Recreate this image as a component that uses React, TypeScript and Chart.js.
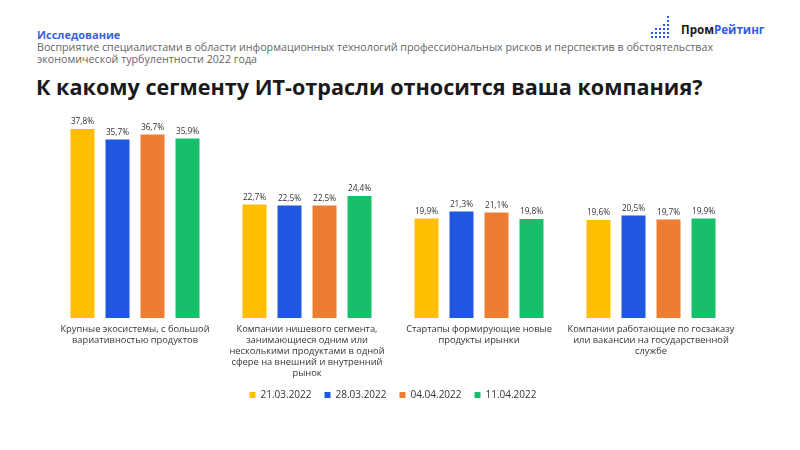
import React, { useEffect, useRef } from "react";
import { Chart, registerables } from "chart.js";

Chart.register(...registerables);

const categories: string[][] = [
  ["Крупные экосистемы, с большой", "вариативностью продуктов"],
  ["Компании нишевого сегмента,", "занимающиеся одним или", "несколькими продуктами в одной", "сфере на внешний и внутренний", "рынок"],
  ["Стартапы формирующие новые", "продукты ирынки"],
  ["Компании работающие по госзаказу", "или вакансии на государственной", "службе"],
];
const seriesNames = ["21.03.2022", "28.03.2022", "04.04.2022", "11.04.2022"];
const s1 = [37.8, 22.7, 19.9, 19.6];
const s2 = [35.7, 22.5, 21.3, 20.5];
const s3 = [36.7, 22.5, 21.1, 19.7];
const s4 = [35.9, 24.4, 19.8, 19.9];
const colors = ["#FFBF00", "#1F57E0", "#ED7D31", "#17BF6A"];

const FONT = "'Open Sans', sans-serif";

const labelPlugin = {
  id: "barValues",
  afterDatasetsDraw(chart: any) {
    const ctx = chart.ctx;
    ctx.save();
    ctx.font = `8.3px ${FONT}`;
    ctx.fillStyle = "#333";
    ctx.textAlign = "center";
    ctx.textBaseline = "bottom";
    chart.data.datasets.forEach((ds: any, i: number) => {
      const meta = chart.getDatasetMeta(i);
      meta.data.forEach((el: any, j: number) => {
        const v = ds.data[j] as number;
        ctx.fillText(v.toFixed(1).replace(".", ",") + "%", el.x, el.y - 3);
      });
    });
    ctx.restore();
  },
};

function Logo() {
  const cols = [2, 3, 3, 4, 6];
  return (
    <div style={{ position: "absolute", left: 651, top: 16, display: "flex", alignItems: "center" }}>
      <div style={{ display: "flex", alignItems: "flex-end", height: 22, gap: 2 }}>
        {cols.map((n, ci) => (
          <div key={ci} style={{ display: "flex", flexDirection: "column", gap: 2 }}>
            {Array.from({ length: n }).map((_, k) => (
              <div key={k} style={{ width: 2, height: 2, background: "#2f5be0" }} />
            ))}
          </div>
        ))}
      </div>
      <div style={{ marginLeft: 12, fontFamily: FONT, fontWeight: 700, fontSize: 11.6, color: "#1a1a1a", marginTop: 5 }}>
        Пром<span style={{ color: "#2f5be0" }}>Рейтинг</span>
      </div>
    </div>
  );
}

export default function App() {
  const ref = useRef<HTMLCanvasElement>(null);
  useEffect(() => {
    if (!ref.current) return;
    const data = [s1, s2, s3, s4];
    const chart = new Chart(ref.current, {
      type: "bar",
      data: {
        labels: categories,
        datasets: data.map((d, i) => ({
          label: seriesNames[i],
          data: d,
          backgroundColor: colors[i],
          categoryPercentage: 0.814,
          barPercentage: 0.686,
        })),
      },
      options: {
        animation: false,
        responsive: false,
        maintainAspectRatio: false,
        layout: { padding: { left: 49, right: 63, top: 18, bottom: 0 } },
        scales: {
          x: {
            grid: { display: false, drawTicks: false },
            border: { display: false },
            ticks: {
              color: "#333",
              font: { family: FONT, size: 9.3, lineHeight: 1.18 },
              maxRotation: 0,
              autoSkip: false,
              padding: 6,
            },
            afterFit: (s: any) => {
              s.height = 59;
              s._computeLabelArea = () => undefined;
            },
          },
          y: {
            display: false,
            min: 0,
            max: 40,
          },
        },
        plugins: {
          legend: {
            position: "bottom",
            labels: {
              boxWidth: 6,
              boxHeight: 6,
              padding: 13,
              color: "#333",
              font: { family: FONT, size: 10 },
            },
          },
          tooltip: { enabled: false },
        },
      },
      plugins: [labelPlugin],
    });
    return () => chart.destroy();
  }, []);

  return (
    <div style={{ position: "fixed", left: 0, top: 0, width: 800, height: 450, background: "#fff", overflow: "hidden" }}>
      <div style={{ position: "absolute", left: 37, top: 27, fontFamily: FONT, fontWeight: 700, fontSize: 11, color: "#3a5fe0" }}>
        Исследование
      </div>
      <div style={{ position: "absolute", left: 37, top: 41, fontFamily: FONT, fontSize: 10.7, lineHeight: "12px", color: "#666", whiteSpace: "nowrap" }}>
        Восприятие специалистами в области информационных технологий профессиональных рисков и перспектив в обстоятельствах
        <br />
        экономической турбулентности 2022 года
      </div>
      <div style={{ position: "absolute", left: 36, top: 72, fontFamily: FONT, fontWeight: 700, fontSize: 21.6, color: "#1a1a1a", whiteSpace: "nowrap" }}>
        К какому сегменту ИТ-отрасли относится ваша компания?
      </div>
      <Logo />
      <canvas ref={ref} width={800} height={310} style={{ position: "absolute", left: 0, top: 100, width: 800, height: 310 }} />
    </div>
  );
}
